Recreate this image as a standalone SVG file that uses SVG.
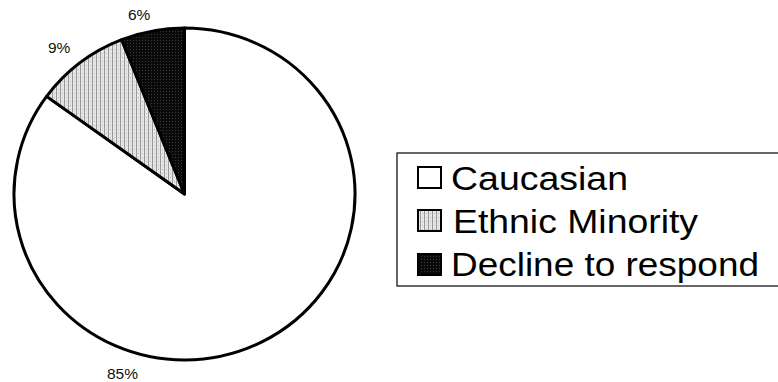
<svg xmlns="http://www.w3.org/2000/svg" width="778" height="382" viewBox="0 0 778 382">
<style>
.pie{stroke:#000;stroke-width:3;stroke-linejoin:round}
.lbl{font-family:"Liberation Sans",Arial,sans-serif;font-size:15.5px;fill:#111}
.leg{font-family:"Liberation Sans",Arial,sans-serif;font-size:34px;fill:#000}
.sw{stroke:#000;stroke-width:2}
</style>
<defs>
<pattern id="pEth" width="4" height="4" patternUnits="userSpaceOnUse">
<rect width="4" height="4" fill="#e6e6e6"/>
<rect x="0" y="0" width="1" height="4" fill="#9a9a9a"/>
<rect x="2" y="1" width="1" height="1" fill="#bdbdbd"/>
</pattern>
<pattern id="pDec" width="3" height="3" patternUnits="userSpaceOnUse">
<rect width="3" height="3" fill="#0a0a0a"/>
<rect x="1" y="1" width="1" height="1" fill="#3a3a3a"/>
</pattern>
</defs>
<rect width="778" height="382" fill="#fff"/>
<g id="pie">
<g id="slice-caucasian">
<path class="pie" d="M184.5,194 L46.6,96.4 A170.5,166 0 1 0 184.5,28 Z" fill="#fff"/>
</g>
<g id="slice-ethnic">
<path class="pie" d="M184.5,194 L121.7,39.7 A170.5,166 0 0 0 46.6,96.4 Z" fill="url(#pEth)"/>
</g>
<g id="slice-decline">
<path class="pie" d="M184.5,194 L184.5,28 A170.5,166 0 0 0 121.7,39.7 Z" fill="url(#pDec)"/>
</g>
</g>
<g id="labels">
<text class="lbl" x="128" y="20">6%</text>
<text class="lbl" x="48" y="53">9%</text>
<text class="lbl" x="107" y="379">85%</text>
</g>
<g id="legend">
<rect x="397" y="153" width="384" height="133" fill="#fff" stroke="#000" stroke-width="1.2"/>
<g id="legend-caucasian">
<rect class="sw" x="418" y="167" width="23" height="21" fill="#fff"/>
<text class="leg" x="451" y="190" textLength="177" lengthAdjust="spacingAndGlyphs">Caucasian</text>
</g>
<g id="legend-ethnic">
<rect class="sw" x="418" y="210" width="23" height="21" fill="url(#pEth)"/>
<text class="leg" x="453" y="233" textLength="245" lengthAdjust="spacingAndGlyphs">Ethnic Minority</text>
</g>
<g id="legend-decline">
<rect class="sw" x="418" y="254" width="23" height="21" fill="url(#pDec)"/>
<text class="leg" x="451" y="276" textLength="308" lengthAdjust="spacingAndGlyphs">Decline to respond</text>
</g>
</g>
</svg>
